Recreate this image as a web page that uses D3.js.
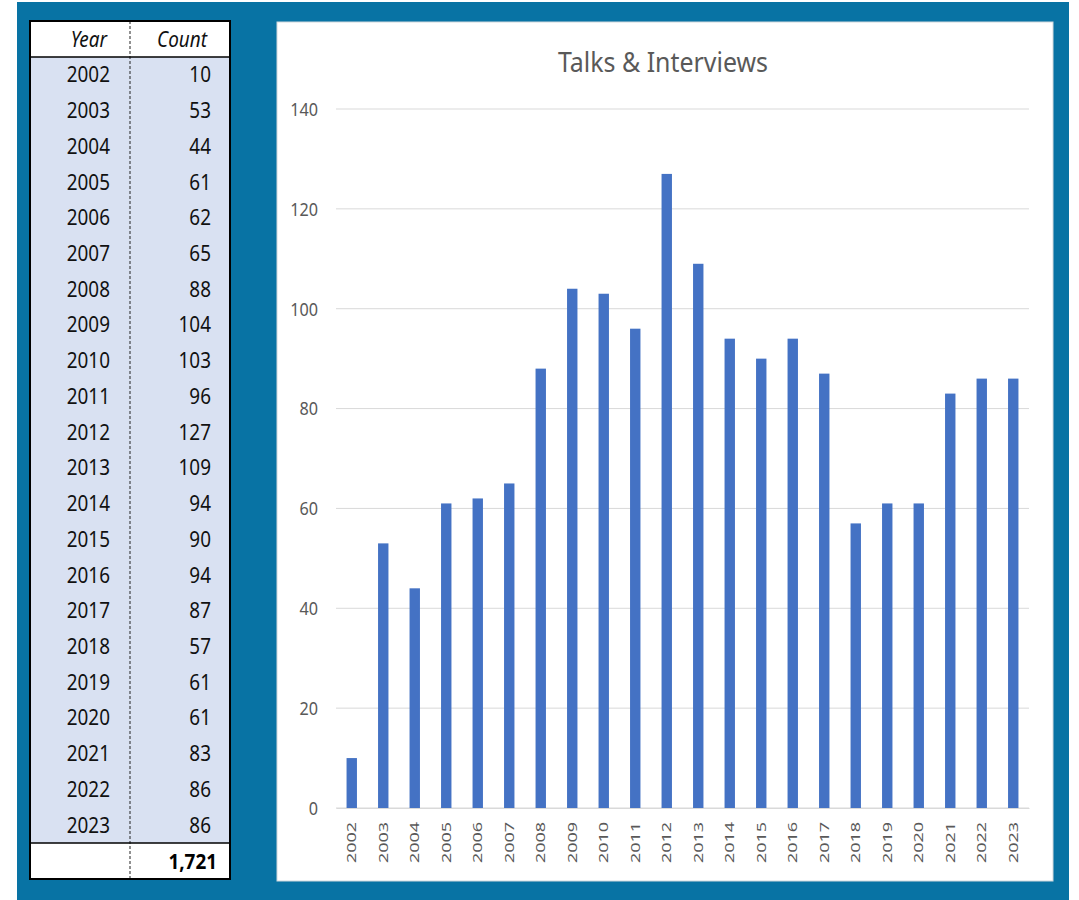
<!DOCTYPE html>
<html>
<head>
<meta charset="utf-8">
<script src="https://cdn.jsdelivr.net/npm/d3@7/dist/d3.min.js"></script>
<style>
  body { margin: 0; background: #fff; }
  svg { display: block; font-family: "Noto Sans", "Open Sans", sans-serif; }
</style>
</head>
<body>
<svg id="chart" width="1079" height="900"></svg>
<script>
// data
var years = ["2002","2003","2004","2005","2006","2007","2008","2009","2010","2011","2012",
             "2013","2014","2015","2016","2017","2018","2019","2020","2021","2022","2023"];
var counts = [10,53,44,61,62,65,88,104,103,96,127,109,94,90,94,87,57,61,61,83,86,86];
var yTicks = [0,20,40,60,80,100,120,140];
var title = "Talks & Interviews";

var svg = d3.select("#chart");

// the screenshot text is a little narrow, so squeeze it sideways
function place(x, y, sx, sy) {
  return "translate(" + x + "," + y + ") scale(" + sx + "," + (sy || 1) + ")";
}

// blue backdrop
svg.append("rect").attr("x", 17).attr("y", 2).attr("width", 1052).attr("height", 898)
  .attr("fill", "#0873a4");

// ---- table ----
var tbl = svg.append("g");
var tx0 = 30, tx1 = 230, tmid = 130, ty0 = 21;
var rowH = (843 - 57) / years.length;
var rowY = d3.scaleBand().domain(years).range([57, 57 + rowH * years.length]);

tbl.append("rect").attr("x", tx0).attr("y", ty0).attr("width", tx1 - tx0).attr("height", 858)
  .attr("fill", "#fff");
tbl.append("rect").attr("x", tx0).attr("y", 57).attr("width", tx1 - tx0).attr("height", rowH * years.length)
  .attr("fill", "#d9e1f2");

var rows = tbl.selectAll("g.row").data(years).enter().append("g").attr("class", "row");
rows.append("text")
  .attr("transform", function(d) { return place(110, rowY(d) + rowH / 2 + 7.5, 0.9); })
  .attr("text-anchor", "end").attr("font-size", 21).attr("fill", "#111").text(function(d) { return d; });
rows.append("text")
  .attr("transform", function(d) { return place(211, rowY(d) + rowH / 2 + 7.5, 0.9); })
  .attr("text-anchor", "end").attr("font-size", 21).attr("fill", "#111")
  .text(function(d, i) { return counts[i]; });

tbl.append("text").attr("transform", place(107, 47, 0.9)).attr("text-anchor", "end")
  .attr("font-size", 21).attr("font-style", "italic").attr("fill", "#111").text("Year");
tbl.append("text").attr("transform", place(207, 47, 0.9)).attr("text-anchor", "end")
  .attr("font-size", 21).attr("font-style", "italic").attr("fill", "#111").text("Count");
tbl.append("text").attr("transform", place(217, 869, 0.9)).attr("text-anchor", "end")
  .attr("font-size", 21).attr("font-weight", "bold").attr("fill", "#000")
  .text(d3.format(",")(d3.sum(counts)));

tbl.append("line").attr("x1", tmid).attr("x2", tmid).attr("y1", ty0).attr("y2", 879)
  .attr("stroke", "#222").attr("stroke-dasharray", "3,2");
tbl.append("line").attr("x1", tx0).attr("x2", tx1).attr("y1", 57).attr("y2", 57)
  .attr("stroke", "#000").attr("stroke-width", 1.5);
tbl.append("line").attr("x1", tx0).attr("x2", tx1).attr("y1", 843).attr("y2", 843)
  .attr("stroke", "#000").attr("stroke-width", 1.5);
tbl.append("rect").attr("x", tx0).attr("y", ty0).attr("width", tx1 - tx0).attr("height", 858)
  .attr("fill", "none").attr("stroke", "#000").attr("stroke-width", 2);

// ---- chart panel ----
svg.append("rect").attr("x", 277).attr("y", 22).attr("width", 776).attr("height", 859)
  .attr("fill", "#fff").attr("stroke", "#cfd8dc").attr("stroke-width", 1);

svg.append("text").attr("transform", place(663, 72, 0.89)).attr("text-anchor", "middle")
  .attr("font-size", 28).attr("fill", "#595959").text(title);

var x = d3.scaleBand().domain(years).range([336, 1029]).paddingInner(0.67).paddingOuter(0.335);
var y = d3.scaleLinear().domain([0, 140]).range([808, 109]);

var grid = svg.append("g");
grid.selectAll("line").data(yTicks).enter().append("line")
  .attr("x1", 336).attr("x2", 1029)
  .attr("y1", function(d) { return y(d); }).attr("y2", function(d) { return y(d); })
  .attr("stroke", "#d9d9d9").attr("stroke-width", 1);

var yAxis = svg.append("g").attr("transform", "translate(318,0)")
  .call(d3.axisLeft(y).tickValues(yTicks).tickSize(0).tickPadding(0));
yAxis.select(".domain").remove();
yAxis.selectAll("text").attr("font-size", 18).attr("fill", "#595959")
  .attr("font-family", "'Noto Sans', sans-serif")
  .attr("x", 0).attr("dy", "0.35em").attr("transform", "scale(0.9,1)");

svg.append("g").selectAll("rect").data(counts).enter().append("rect")
  .attr("x", function(d, i) { return x(years[i]); })
  .attr("y", function(d) { return y(d); })
  .attr("width", x.bandwidth())
  .attr("height", function(d) { return y(0) - y(d); })
  .attr("fill", "#4472c4");

var xAxis = svg.append("g").attr("transform", "translate(0,808)")
  .call(d3.axisBottom(x).tickSize(0));
xAxis.select(".domain").attr("stroke", "#d9d9d9");
xAxis.selectAll("text")
  .attr("font-size", 18).attr("fill", "#595959").attr("font-family", "'Noto Sans', sans-serif")
  .attr("text-anchor", "end").attr("transform", "rotate(-90) scale(1,0.75)")
  .attr("x", -14).attr("y", 0).attr("dy", "0.35em");
</script>
</body>
</html>
